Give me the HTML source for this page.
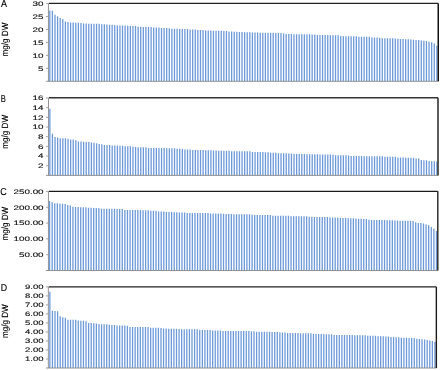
<!DOCTYPE html>
<html><head><meta charset="utf-8"><style>
html,body{margin:0;padding:0;background:#fff;}
body{width:440px;height:370px;overflow:hidden;font-family:"Liberation Sans",sans-serif;}
svg{display:block;will-change:transform;}
text{text-rendering:geometricPrecision;}
</style></head><body>
<svg xmlns="http://www.w3.org/2000/svg" width="440" height="370" viewBox="0 0 440 370">
<rect width="440" height="370" fill="#fff"/>
<path fill="#6d99d9" d="M49.15 81.30h1.30v-70.85h-1.30zM51.75 81.30h1.30v-70.60h-1.30zM54.35 81.30h1.30v-66.56h-1.30zM56.94 81.30h1.30v-65.00h-1.30zM59.54 81.30h1.30v-63.30h-1.30zM62.14 81.30h1.30v-62.40h-1.30zM64.74 81.30h1.30v-59.70h-1.30zM67.33 81.30h1.30v-59.30h-1.30zM69.93 81.30h1.30v-58.80h-1.30zM72.53 81.30h1.30v-58.80h-1.30zM75.13 81.30h1.30v-58.50h-1.30zM77.72 81.30h1.30v-58.50h-1.30zM80.32 81.30h1.30v-58.24h-1.30zM82.92 81.30h1.30v-57.90h-1.30zM85.52 81.30h1.30v-57.85h-1.30zM88.11 81.30h1.30v-57.50h-1.30zM90.71 81.30h1.30v-57.50h-1.30zM93.31 81.30h1.30v-57.50h-1.30zM95.91 81.30h1.30v-57.50h-1.30zM98.50 81.30h1.30v-57.50h-1.30zM101.10 81.30h1.30v-56.94h-1.30zM103.70 81.30h1.30v-56.94h-1.30zM106.30 81.30h1.30v-56.75h-1.30zM108.90 81.30h1.30v-56.60h-1.30zM111.49 81.30h1.30v-56.60h-1.30zM114.09 81.30h1.30v-56.30h-1.30zM116.69 81.30h1.30v-55.70h-1.30zM119.29 81.30h1.30v-55.70h-1.30zM121.88 81.30h1.30v-55.70h-1.30zM124.48 81.30h1.30v-55.70h-1.30zM127.08 81.30h1.30v-55.50h-1.30zM129.68 81.30h1.30v-55.20h-1.30zM132.27 81.30h1.30v-55.20h-1.30zM134.87 81.30h1.30v-55.20h-1.30zM137.47 81.30h1.30v-54.60h-1.30zM140.07 81.30h1.30v-54.60h-1.30zM142.66 81.30h1.30v-54.30h-1.30zM145.26 81.30h1.30v-54.30h-1.30zM147.86 81.30h1.30v-54.30h-1.30zM150.46 81.30h1.30v-54.30h-1.30zM153.05 81.30h1.30v-53.87h-1.30zM155.65 81.30h1.30v-53.87h-1.30zM158.25 81.30h1.30v-53.87h-1.30zM160.85 81.30h1.30v-53.32h-1.30zM163.44 81.30h1.30v-53.32h-1.30zM166.04 81.30h1.30v-53.32h-1.30zM168.64 81.30h1.30v-53.00h-1.30zM171.24 81.30h1.30v-52.50h-1.30zM173.84 81.30h1.30v-52.50h-1.30zM176.43 81.30h1.30v-52.50h-1.30zM179.03 81.30h1.30v-52.20h-1.30zM181.63 81.30h1.30v-52.20h-1.30zM184.23 81.30h1.30v-52.20h-1.30zM186.82 81.30h1.30v-52.20h-1.30zM189.42 81.30h1.30v-51.85h-1.30zM192.02 81.30h1.30v-51.85h-1.30zM194.62 81.30h1.30v-51.85h-1.30zM197.21 81.30h1.30v-51.40h-1.30zM199.81 81.30h1.30v-51.40h-1.30zM202.41 81.30h1.30v-51.40h-1.30zM205.01 81.30h1.30v-50.80h-1.30zM207.60 81.30h1.30v-50.75h-1.30zM210.20 81.30h1.30v-50.75h-1.30zM212.80 81.30h1.30v-50.50h-1.30zM215.40 81.30h1.30v-50.50h-1.30zM217.99 81.30h1.30v-50.50h-1.30zM220.59 81.30h1.30v-50.50h-1.30zM223.19 81.30h1.30v-50.20h-1.30zM225.79 81.30h1.30v-50.20h-1.30zM228.38 81.30h1.30v-49.85h-1.30zM230.98 81.30h1.30v-49.85h-1.30zM233.58 81.30h1.30v-49.60h-1.30zM236.18 81.30h1.30v-49.60h-1.30zM238.78 81.30h1.30v-49.40h-1.30zM241.37 81.30h1.30v-49.40h-1.30zM243.97 81.30h1.30v-49.05h-1.30zM246.57 81.30h1.30v-49.05h-1.30zM249.17 81.30h1.30v-49.05h-1.30zM251.76 81.30h1.30v-48.90h-1.30zM254.36 81.30h1.30v-48.90h-1.30zM256.96 81.30h1.30v-48.75h-1.30zM259.56 81.30h1.30v-48.50h-1.30zM262.15 81.30h1.30v-48.50h-1.30zM264.75 81.30h1.30v-48.50h-1.30zM267.35 81.30h1.30v-48.50h-1.30zM269.95 81.30h1.30v-48.50h-1.30zM272.54 81.30h1.30v-48.50h-1.30zM275.14 81.30h1.30v-48.20h-1.30zM277.74 81.30h1.30v-48.20h-1.30zM280.34 81.30h1.30v-48.20h-1.30zM282.93 81.30h1.30v-47.85h-1.30zM285.53 81.30h1.30v-47.40h-1.30zM288.13 81.30h1.30v-47.40h-1.30zM290.73 81.30h1.30v-47.40h-1.30zM293.32 81.30h1.30v-47.05h-1.30zM295.92 81.30h1.30v-47.05h-1.30zM298.52 81.30h1.30v-47.05h-1.30zM301.12 81.30h1.30v-47.00h-1.30zM303.72 81.30h1.30v-47.00h-1.30zM306.31 81.30h1.30v-47.00h-1.30zM308.91 81.30h1.30v-47.00h-1.30zM311.51 81.30h1.30v-46.75h-1.30zM314.11 81.30h1.30v-46.75h-1.30zM316.70 81.30h1.30v-46.20h-1.30zM319.30 81.30h1.30v-46.20h-1.30zM321.90 81.30h1.30v-46.20h-1.30zM324.50 81.30h1.30v-46.20h-1.30zM327.09 81.30h1.30v-46.20h-1.30zM329.69 81.30h1.30v-45.95h-1.30zM332.29 81.30h1.30v-45.95h-1.30zM334.89 81.30h1.30v-45.95h-1.30zM337.48 81.30h1.30v-45.95h-1.30zM340.08 81.30h1.30v-45.20h-1.30zM342.68 81.30h1.30v-45.00h-1.30zM345.28 81.30h1.30v-45.00h-1.30zM347.87 81.30h1.30v-45.00h-1.30zM350.47 81.30h1.30v-45.00h-1.30zM353.07 81.30h1.30v-45.00h-1.30zM355.67 81.30h1.30v-45.00h-1.30zM358.26 81.30h1.30v-44.50h-1.30zM360.86 81.30h1.30v-44.50h-1.30zM363.46 81.30h1.30v-44.50h-1.30zM366.06 81.30h1.30v-44.50h-1.30zM368.66 81.30h1.30v-44.50h-1.30zM371.25 81.30h1.30v-43.85h-1.30zM373.85 81.30h1.30v-43.85h-1.30zM376.45 81.30h1.30v-43.85h-1.30zM379.05 81.30h1.30v-43.60h-1.30zM381.64 81.30h1.30v-43.05h-1.30zM384.24 81.30h1.30v-43.05h-1.30zM386.84 81.30h1.30v-43.05h-1.30zM389.44 81.30h1.30v-43.05h-1.30zM392.03 81.30h1.30v-43.00h-1.30zM394.63 81.30h1.30v-42.90h-1.30zM397.23 81.30h1.30v-42.60h-1.30zM399.83 81.30h1.30v-42.30h-1.30zM402.42 81.30h1.30v-42.30h-1.30zM405.02 81.30h1.30v-42.10h-1.30zM407.62 81.30h1.30v-42.10h-1.30zM410.22 81.30h1.30v-41.90h-1.30zM412.81 81.30h1.30v-41.60h-1.30zM415.41 81.30h1.30v-41.30h-1.30zM418.01 81.30h1.30v-41.30h-1.30zM420.61 81.30h1.30v-40.90h-1.30zM423.20 81.30h1.30v-40.60h-1.30zM425.80 81.30h1.30v-40.30h-1.30zM428.40 81.30h1.30v-39.54h-1.30zM431.00 81.30h1.30v-39.00h-1.30zM433.60 81.30h1.30v-37.80h-1.30zM436.19 81.30h1.30v-35.45h-1.30z"/>
<path stroke="#888888" stroke-width="0.9" fill="none" d="M48.45 3.60V81.30M45.95 81.30H438.40"/>
<path stroke="#9a9a9a" stroke-width="0.9" fill="none" d="M45.95 68.35H48.45M45.95 55.40H48.45M45.95 42.45H48.45M45.95 29.50H48.45M45.95 16.55H48.45M45.95 3.60H48.45"/>
<path stroke="#222" stroke-width="1.2" fill="none" d="M48.85 3.42H438.25"/>
<path stroke="#111" stroke-width="1.5" fill="none" d="M438.25 3.42V81.30"/>
<text x="0" y="0" transform="translate(43.4 70.65) scale(1.541 1)" text-anchor="end" font-family="Liberation Sans" font-size="6.4" fill="#111111" stroke="#111111" stroke-width="0.12">5</text>
<text x="0" y="0" transform="translate(43.4 57.70) scale(1.541 1)" text-anchor="end" font-family="Liberation Sans" font-size="6.4" fill="#111111" stroke="#111111" stroke-width="0.12">10</text>
<text x="0" y="0" transform="translate(43.4 44.75) scale(1.541 1)" text-anchor="end" font-family="Liberation Sans" font-size="6.4" fill="#111111" stroke="#111111" stroke-width="0.12">15</text>
<text x="0" y="0" transform="translate(43.4 31.80) scale(1.541 1)" text-anchor="end" font-family="Liberation Sans" font-size="6.4" fill="#111111" stroke="#111111" stroke-width="0.12">20</text>
<text x="0" y="0" transform="translate(43.4 18.85) scale(1.541 1)" text-anchor="end" font-family="Liberation Sans" font-size="6.4" fill="#111111" stroke="#111111" stroke-width="0.12">25</text>
<text x="0" y="0" transform="translate(43.4 5.90) scale(1.541 1)" text-anchor="end" font-family="Liberation Sans" font-size="6.4" fill="#111111" stroke="#111111" stroke-width="0.12">30</text>
<text x="0" y="0" transform="translate(0.90 7.30) scale(0.88 1)" font-family="Liberation Sans" font-size="10.2" fill="#000" stroke="#000" stroke-width="0.15">A</text>
<text x="0" y="0" transform="translate(7.6 39.60) rotate(-90) scale(0.9 1)" text-anchor="middle" font-family="Liberation Sans" font-size="9.0" fill="#000" stroke="#000" stroke-width="0.12">mg/g DW</text>
<path fill="#6d99d9" d="M49.20 175.40h1.30v-66.60h-1.30zM51.80 175.40h1.30v-41.60h-1.30zM54.40 175.40h1.30v-38.50h-1.30zM56.99 175.40h1.30v-37.80h-1.30zM59.59 175.40h1.30v-37.10h-1.30zM62.19 175.40h1.30v-37.10h-1.30zM64.79 175.40h1.30v-37.10h-1.30zM67.38 175.40h1.30v-36.60h-1.30zM69.98 175.40h1.30v-35.90h-1.30zM72.58 175.40h1.30v-35.80h-1.30zM75.18 175.40h1.30v-35.20h-1.30zM77.77 175.40h1.30v-33.90h-1.30zM80.37 175.40h1.30v-33.90h-1.30zM82.97 175.40h1.30v-33.60h-1.30zM85.57 175.40h1.30v-33.50h-1.30zM88.16 175.40h1.30v-33.50h-1.30zM90.76 175.40h1.30v-32.80h-1.30zM93.36 175.40h1.30v-32.70h-1.30zM95.96 175.40h1.30v-32.20h-1.30zM98.55 175.40h1.30v-31.40h-1.30zM101.15 175.40h1.30v-31.10h-1.30zM103.75 175.40h1.30v-30.30h-1.30zM106.35 175.40h1.30v-30.30h-1.30zM108.95 175.40h1.30v-30.30h-1.30zM111.54 175.40h1.30v-29.95h-1.30zM114.14 175.40h1.30v-29.95h-1.30zM116.74 175.40h1.30v-29.95h-1.30zM119.34 175.40h1.30v-29.70h-1.30zM121.93 175.40h1.30v-29.70h-1.30zM124.53 175.40h1.30v-29.15h-1.30zM127.13 175.40h1.30v-29.15h-1.30zM129.73 175.40h1.30v-29.15h-1.30zM132.32 175.40h1.30v-28.60h-1.30zM134.92 175.40h1.30v-28.35h-1.30zM137.52 175.40h1.30v-28.14h-1.30zM140.12 175.40h1.30v-28.14h-1.30zM142.71 175.40h1.30v-28.14h-1.30zM145.31 175.40h1.30v-28.14h-1.30zM147.91 175.40h1.30v-27.40h-1.30zM150.51 175.40h1.30v-27.40h-1.30zM153.10 175.40h1.30v-27.40h-1.30zM155.70 175.40h1.30v-27.40h-1.30zM158.30 175.40h1.30v-27.40h-1.30zM160.90 175.40h1.30v-27.40h-1.30zM163.50 175.40h1.30v-27.40h-1.30zM166.09 175.40h1.30v-27.10h-1.30zM168.69 175.40h1.30v-27.10h-1.30zM171.29 175.40h1.30v-27.10h-1.30zM173.89 175.40h1.30v-27.10h-1.30zM176.48 175.40h1.30v-26.60h-1.30zM179.08 175.40h1.30v-26.60h-1.30zM181.68 175.40h1.30v-26.30h-1.30zM184.28 175.40h1.30v-25.97h-1.30zM186.87 175.40h1.30v-25.97h-1.30zM189.47 175.40h1.30v-25.97h-1.30zM192.07 175.40h1.30v-25.40h-1.30zM194.67 175.40h1.30v-25.40h-1.30zM197.26 175.40h1.30v-25.40h-1.30zM199.86 175.40h1.30v-25.40h-1.30zM202.46 175.40h1.30v-25.40h-1.30zM205.06 175.40h1.30v-25.10h-1.30zM207.65 175.40h1.30v-25.10h-1.30zM210.25 175.40h1.30v-25.10h-1.30zM212.85 175.40h1.30v-24.85h-1.30zM215.45 175.40h1.30v-24.85h-1.30zM218.04 175.40h1.30v-24.60h-1.30zM220.64 175.40h1.30v-24.60h-1.30zM223.24 175.40h1.30v-24.60h-1.30zM225.84 175.40h1.30v-24.60h-1.30zM228.44 175.40h1.30v-24.60h-1.30zM231.03 175.40h1.30v-24.25h-1.30zM233.63 175.40h1.30v-24.20h-1.30zM236.23 175.40h1.30v-24.20h-1.30zM238.83 175.40h1.30v-24.20h-1.30zM241.42 175.40h1.30v-24.20h-1.30zM244.02 175.40h1.30v-24.20h-1.30zM246.62 175.40h1.30v-24.20h-1.30zM249.22 175.40h1.30v-24.20h-1.30zM251.81 175.40h1.30v-23.40h-1.30zM254.41 175.40h1.30v-23.40h-1.30zM257.01 175.40h1.30v-23.40h-1.30zM259.61 175.40h1.30v-23.40h-1.30zM262.20 175.40h1.30v-23.40h-1.30zM264.80 175.40h1.30v-23.10h-1.30zM267.40 175.40h1.30v-23.10h-1.30zM270.00 175.40h1.30v-22.60h-1.30zM272.59 175.40h1.30v-22.60h-1.30zM275.19 175.40h1.30v-22.60h-1.30zM277.79 175.40h1.30v-22.25h-1.30zM280.39 175.40h1.30v-22.20h-1.30zM282.98 175.40h1.30v-22.20h-1.30zM285.58 175.40h1.30v-22.20h-1.30zM288.18 175.40h1.30v-21.80h-1.30zM290.78 175.40h1.30v-21.80h-1.30zM293.38 175.40h1.30v-21.40h-1.30zM295.97 175.40h1.30v-21.40h-1.30zM298.57 175.40h1.30v-21.40h-1.30zM301.17 175.40h1.30v-21.40h-1.30zM303.77 175.40h1.30v-21.40h-1.30zM306.36 175.40h1.30v-21.10h-1.30zM308.96 175.40h1.30v-21.10h-1.30zM311.56 175.40h1.30v-21.10h-1.30zM314.16 175.40h1.30v-21.10h-1.30zM316.75 175.40h1.30v-21.10h-1.30zM319.35 175.40h1.30v-20.87h-1.30zM321.95 175.40h1.30v-20.87h-1.30zM324.55 175.40h1.30v-20.87h-1.30zM327.14 175.40h1.30v-20.87h-1.30zM329.74 175.40h1.30v-20.87h-1.30zM332.34 175.40h1.30v-20.55h-1.30zM334.94 175.40h1.30v-20.20h-1.30zM337.53 175.40h1.30v-20.20h-1.30zM340.13 175.40h1.30v-20.20h-1.30zM342.73 175.40h1.30v-20.20h-1.30zM345.33 175.40h1.30v-20.20h-1.30zM347.92 175.40h1.30v-20.00h-1.30zM350.52 175.40h1.30v-19.40h-1.30zM353.12 175.40h1.30v-19.40h-1.30zM355.72 175.40h1.30v-19.40h-1.30zM358.31 175.40h1.30v-19.40h-1.30zM360.91 175.40h1.30v-19.40h-1.30zM363.51 175.40h1.30v-19.27h-1.30zM366.11 175.40h1.30v-19.27h-1.30zM368.71 175.40h1.30v-19.27h-1.30zM371.30 175.40h1.30v-19.27h-1.30zM373.90 175.40h1.30v-19.27h-1.30zM376.50 175.40h1.30v-19.27h-1.30zM379.10 175.40h1.30v-19.27h-1.30zM381.69 175.40h1.30v-19.27h-1.30zM384.29 175.40h1.30v-18.55h-1.30zM386.89 175.40h1.30v-18.55h-1.30zM389.49 175.40h1.30v-18.55h-1.30zM392.08 175.40h1.30v-18.55h-1.30zM394.68 175.40h1.30v-18.55h-1.30zM397.28 175.40h1.30v-18.00h-1.30zM399.88 175.40h1.30v-17.80h-1.30zM402.47 175.40h1.30v-17.80h-1.30zM405.07 175.40h1.30v-17.68h-1.30zM407.67 175.40h1.30v-17.68h-1.30zM410.27 175.40h1.30v-17.68h-1.30zM412.86 175.40h1.30v-17.68h-1.30zM415.46 175.40h1.30v-17.00h-1.30zM418.06 175.40h1.30v-17.00h-1.30zM420.66 175.40h1.30v-15.40h-1.30zM423.25 175.40h1.30v-15.20h-1.30zM425.85 175.40h1.30v-15.20h-1.30zM428.45 175.40h1.30v-14.40h-1.30zM431.05 175.40h1.30v-14.20h-1.30zM433.65 175.40h1.30v-14.10h-1.30zM436.24 175.40h1.30v-13.80h-1.30z"/>
<path stroke="#888888" stroke-width="0.9" fill="none" d="M48.50 98.00V175.40M46.00 175.40H437.80"/>
<path stroke="#9a9a9a" stroke-width="0.9" fill="none" d="M46.00 165.72H48.50M46.00 156.05H48.50M46.00 146.38H48.50M46.00 136.70H48.50M46.00 127.03H48.50M46.00 117.35H48.50M46.00 107.67H48.50M46.00 98.00H48.50"/>
<path stroke="#333" stroke-width="1.5" fill="none" d="M48.90 97.80H438.00"/>
<path stroke="#333" stroke-width="1.6" fill="none" d="M438.00 97.80V175.40"/>
<text x="0" y="0" transform="translate(43.4 168.03) scale(1.541 1)" text-anchor="end" font-family="Liberation Sans" font-size="6.4" fill="#111111" stroke="#111111" stroke-width="0.12">2</text>
<text x="0" y="0" transform="translate(43.4 158.35) scale(1.541 1)" text-anchor="end" font-family="Liberation Sans" font-size="6.4" fill="#111111" stroke="#111111" stroke-width="0.12">4</text>
<text x="0" y="0" transform="translate(43.4 148.68) scale(1.541 1)" text-anchor="end" font-family="Liberation Sans" font-size="6.4" fill="#111111" stroke="#111111" stroke-width="0.12">6</text>
<text x="0" y="0" transform="translate(43.4 139.00) scale(1.541 1)" text-anchor="end" font-family="Liberation Sans" font-size="6.4" fill="#111111" stroke="#111111" stroke-width="0.12">8</text>
<text x="0" y="0" transform="translate(43.4 129.33) scale(1.541 1)" text-anchor="end" font-family="Liberation Sans" font-size="6.4" fill="#111111" stroke="#111111" stroke-width="0.12">10</text>
<text x="0" y="0" transform="translate(43.4 119.65) scale(1.541 1)" text-anchor="end" font-family="Liberation Sans" font-size="6.4" fill="#111111" stroke="#111111" stroke-width="0.12">12</text>
<text x="0" y="0" transform="translate(43.4 109.97) scale(1.541 1)" text-anchor="end" font-family="Liberation Sans" font-size="6.4" fill="#111111" stroke="#111111" stroke-width="0.12">14</text>
<text x="0" y="0" transform="translate(43.4 100.30) scale(1.541 1)" text-anchor="end" font-family="Liberation Sans" font-size="6.4" fill="#111111" stroke="#111111" stroke-width="0.12">16</text>
<text x="0" y="0" transform="translate(0.80 101.60) scale(0.76 1)" font-family="Liberation Sans" font-size="10.0" fill="#000" stroke="#000" stroke-width="0.15">B</text>
<text x="0" y="0" transform="translate(7.6 131.80) rotate(-90) scale(0.9 1)" text-anchor="middle" font-family="Liberation Sans" font-size="9.0" fill="#000" stroke="#000" stroke-width="0.12">mg/g DW</text>
<path fill="#6d99d9" d="M48.90 270.50h1.30v-69.60h-1.30zM51.50 270.50h1.30v-68.30h-1.30zM54.09 270.50h1.30v-67.30h-1.30zM56.69 270.50h1.30v-67.30h-1.30zM59.29 270.50h1.30v-66.75h-1.30zM61.88 270.50h1.30v-66.75h-1.30zM64.48 270.50h1.30v-66.40h-1.30zM67.08 270.50h1.30v-65.50h-1.30zM69.68 270.50h1.30v-65.05h-1.30zM72.27 270.50h1.30v-63.80h-1.30zM74.87 270.50h1.30v-63.60h-1.30zM77.47 270.50h1.30v-63.60h-1.30zM80.06 270.50h1.30v-63.20h-1.30zM82.66 270.50h1.30v-63.20h-1.30zM85.26 270.50h1.30v-63.20h-1.30zM87.85 270.50h1.30v-62.70h-1.30zM90.45 270.50h1.30v-62.70h-1.30zM93.05 270.50h1.30v-62.50h-1.30zM95.64 270.50h1.30v-62.50h-1.30zM98.24 270.50h1.30v-62.50h-1.30zM100.84 270.50h1.30v-61.70h-1.30zM103.43 270.50h1.30v-61.70h-1.30zM106.03 270.50h1.30v-61.70h-1.30zM108.63 270.50h1.30v-61.70h-1.30zM111.22 270.50h1.30v-61.70h-1.30zM113.82 270.50h1.30v-61.70h-1.30zM116.42 270.50h1.30v-61.40h-1.30zM119.01 270.50h1.30v-61.40h-1.30zM121.61 270.50h1.30v-61.40h-1.30zM124.21 270.50h1.30v-60.60h-1.30zM126.80 270.50h1.30v-60.60h-1.30zM129.40 270.50h1.30v-60.60h-1.30zM132.00 270.50h1.30v-60.60h-1.30zM134.60 270.50h1.30v-60.60h-1.30zM137.19 270.50h1.30v-60.60h-1.30zM139.79 270.50h1.30v-60.40h-1.30zM142.39 270.50h1.30v-60.20h-1.30zM144.98 270.50h1.30v-60.20h-1.30zM147.58 270.50h1.30v-60.20h-1.30zM150.18 270.50h1.30v-59.70h-1.30zM152.77 270.50h1.30v-59.70h-1.30zM155.37 270.50h1.30v-59.70h-1.30zM157.97 270.50h1.30v-59.05h-1.30zM160.56 270.50h1.30v-59.05h-1.30zM163.16 270.50h1.30v-59.05h-1.30zM165.76 270.50h1.30v-58.60h-1.30zM168.35 270.50h1.30v-58.60h-1.30zM170.95 270.50h1.30v-58.60h-1.30zM173.55 270.50h1.30v-58.25h-1.30zM176.14 270.50h1.30v-58.25h-1.30zM178.74 270.50h1.30v-57.90h-1.30zM181.34 270.50h1.30v-57.90h-1.30zM183.93 270.50h1.30v-57.90h-1.30zM186.53 270.50h1.30v-57.60h-1.30zM189.13 270.50h1.30v-57.60h-1.30zM191.72 270.50h1.30v-57.60h-1.30zM194.32 270.50h1.30v-57.60h-1.30zM196.92 270.50h1.30v-57.60h-1.30zM199.52 270.50h1.30v-57.60h-1.30zM202.11 270.50h1.30v-57.60h-1.30zM204.71 270.50h1.30v-57.60h-1.30zM207.31 270.50h1.30v-57.60h-1.30zM209.90 270.50h1.30v-57.05h-1.30zM212.50 270.50h1.30v-57.05h-1.30zM215.10 270.50h1.30v-57.05h-1.30zM217.69 270.50h1.30v-57.05h-1.30zM220.29 270.50h1.30v-57.05h-1.30zM222.89 270.50h1.30v-56.80h-1.30zM225.48 270.50h1.30v-56.60h-1.30zM228.08 270.50h1.30v-56.60h-1.30zM230.68 270.50h1.30v-56.40h-1.30zM233.27 270.50h1.30v-56.20h-1.30zM235.87 270.50h1.30v-56.20h-1.30zM238.47 270.50h1.30v-56.20h-1.30zM241.06 270.50h1.30v-56.20h-1.30zM243.66 270.50h1.30v-56.20h-1.30zM246.26 270.50h1.30v-56.20h-1.30zM248.85 270.50h1.30v-56.20h-1.30zM251.45 270.50h1.30v-55.70h-1.30zM254.05 270.50h1.30v-55.40h-1.30zM256.64 270.50h1.30v-55.40h-1.30zM259.24 270.50h1.30v-55.40h-1.30zM261.84 270.50h1.30v-55.40h-1.30zM264.44 270.50h1.30v-55.40h-1.30zM267.03 270.50h1.30v-55.40h-1.30zM269.63 270.50h1.30v-55.40h-1.30zM272.23 270.50h1.30v-54.82h-1.30zM274.82 270.50h1.30v-54.82h-1.30zM277.42 270.50h1.30v-54.82h-1.30zM280.02 270.50h1.30v-54.82h-1.30zM282.61 270.50h1.30v-54.82h-1.30zM285.21 270.50h1.30v-54.82h-1.30zM287.81 270.50h1.30v-54.82h-1.30zM290.40 270.50h1.30v-54.20h-1.30zM293.00 270.50h1.30v-54.20h-1.30zM295.60 270.50h1.30v-54.20h-1.30zM298.19 270.50h1.30v-54.20h-1.30zM300.79 270.50h1.30v-54.20h-1.30zM303.39 270.50h1.30v-54.20h-1.30zM305.98 270.50h1.30v-54.20h-1.30zM308.58 270.50h1.30v-53.70h-1.30zM311.18 270.50h1.30v-53.70h-1.30zM313.77 270.50h1.30v-53.45h-1.30zM316.37 270.50h1.30v-53.45h-1.30zM318.97 270.50h1.30v-53.45h-1.30zM321.56 270.50h1.30v-53.45h-1.30zM324.16 270.50h1.30v-53.45h-1.30zM326.76 270.50h1.30v-53.45h-1.30zM329.36 270.50h1.30v-53.30h-1.30zM331.95 270.50h1.30v-52.90h-1.30zM334.55 270.50h1.30v-52.90h-1.30zM337.15 270.50h1.30v-52.90h-1.30zM339.74 270.50h1.30v-52.50h-1.30zM342.34 270.50h1.30v-52.50h-1.30zM344.94 270.50h1.30v-52.50h-1.30zM347.53 270.50h1.30v-52.20h-1.30zM350.13 270.50h1.30v-52.20h-1.30zM352.73 270.50h1.30v-52.20h-1.30zM355.32 270.50h1.30v-51.95h-1.30zM357.92 270.50h1.30v-51.70h-1.30zM360.52 270.50h1.30v-51.70h-1.30zM363.11 270.50h1.30v-51.40h-1.30zM365.71 270.50h1.30v-51.40h-1.30zM368.31 270.50h1.30v-50.85h-1.30zM370.90 270.50h1.30v-50.50h-1.30zM373.50 270.50h1.30v-50.50h-1.30zM376.10 270.50h1.30v-50.50h-1.30zM378.69 270.50h1.30v-50.50h-1.30zM381.29 270.50h1.30v-50.50h-1.30zM383.89 270.50h1.30v-50.50h-1.30zM386.48 270.50h1.30v-50.20h-1.30zM389.08 270.50h1.30v-50.20h-1.30zM391.68 270.50h1.30v-50.20h-1.30zM394.28 270.50h1.30v-49.90h-1.30zM396.87 270.50h1.30v-49.90h-1.30zM399.47 270.50h1.30v-49.75h-1.30zM402.07 270.50h1.30v-49.75h-1.30zM404.66 270.50h1.30v-49.75h-1.30zM407.26 270.50h1.30v-49.75h-1.30zM409.86 270.50h1.30v-49.75h-1.30zM412.45 270.50h1.30v-49.60h-1.30zM415.05 270.50h1.30v-48.20h-1.30zM417.65 270.50h1.30v-47.50h-1.30zM420.24 270.50h1.30v-47.50h-1.30zM422.84 270.50h1.30v-46.90h-1.30zM425.44 270.50h1.30v-45.90h-1.30zM428.03 270.50h1.30v-45.20h-1.30zM430.63 270.50h1.30v-43.60h-1.30zM433.23 270.50h1.30v-41.80h-1.30zM435.82 270.50h1.30v-39.50h-1.30z"/>
<path stroke="#888888" stroke-width="0.9" fill="none" d="M48.45 191.40V270.50M45.95 270.50H437.70"/>
<path stroke="#9a9a9a" stroke-width="0.9" fill="none" d="M45.95 254.68H48.45M45.95 238.86H48.45M45.95 223.04H48.45M45.95 207.22H48.45M45.95 191.40H48.45"/>
<path stroke="#1a1a1a" stroke-width="1.2" fill="none" d="M48.85 191.37H437.80"/>
<path stroke="#222" stroke-width="1.4" fill="none" d="M437.80 191.37V270.50"/>
<text x="0" y="0" transform="translate(43.6 256.98) scale(1.541 1)" text-anchor="end" font-family="Liberation Sans" font-size="6.4" fill="#111111" stroke="#111111" stroke-width="0.12">50.00</text>
<text x="0" y="0" transform="translate(43.6 241.16) scale(1.541 1)" text-anchor="end" font-family="Liberation Sans" font-size="6.4" fill="#111111" stroke="#111111" stroke-width="0.12">100.00</text>
<text x="0" y="0" transform="translate(43.6 225.34) scale(1.541 1)" text-anchor="end" font-family="Liberation Sans" font-size="6.4" fill="#111111" stroke="#111111" stroke-width="0.12">150.00</text>
<text x="0" y="0" transform="translate(43.6 209.52) scale(1.541 1)" text-anchor="end" font-family="Liberation Sans" font-size="6.4" fill="#111111" stroke="#111111" stroke-width="0.12">200.00</text>
<text x="0" y="0" transform="translate(43.6 193.70) scale(1.541 1)" text-anchor="end" font-family="Liberation Sans" font-size="6.4" fill="#111111" stroke="#111111" stroke-width="0.12">250.00</text>
<text x="0" y="0" transform="translate(0.20 194.90) scale(0.9 1)" font-family="Liberation Sans" font-size="10.0" fill="#000" stroke="#000" stroke-width="0.15">C</text>
<text x="0" y="0" transform="translate(7.6 223.65) rotate(-90) scale(0.9 1)" text-anchor="middle" font-family="Liberation Sans" font-size="9.0" fill="#000" stroke="#000" stroke-width="0.12">mg/g DW</text>
<path fill="#6d99d9" d="M49.20 368.00h1.29v-76.24h-1.29zM51.79 368.00h1.29v-57.30h-1.29zM54.37 368.00h1.29v-57.05h-1.29zM56.96 368.00h1.29v-56.65h-1.29zM59.54 368.00h1.29v-51.65h-1.29zM62.13 368.00h1.29v-50.84h-1.29zM64.71 368.00h1.29v-50.16h-1.29zM67.30 368.00h1.29v-48.14h-1.29zM69.88 368.00h1.29v-48.14h-1.29zM72.46 368.00h1.29v-48.14h-1.29zM75.05 368.00h1.29v-48.14h-1.29zM77.63 368.00h1.29v-47.60h-1.29zM80.22 368.00h1.29v-47.20h-1.29zM82.80 368.00h1.29v-47.20h-1.29zM85.39 368.00h1.29v-46.80h-1.29zM87.97 368.00h1.29v-44.90h-1.29zM90.56 368.00h1.29v-44.90h-1.29zM93.14 368.00h1.29v-44.85h-1.29zM95.72 368.00h1.29v-44.40h-1.29zM98.31 368.00h1.29v-44.00h-1.29zM100.89 368.00h1.29v-43.70h-1.29zM103.48 368.00h1.29v-43.70h-1.29zM106.06 368.00h1.29v-43.70h-1.29zM108.65 368.00h1.29v-43.20h-1.29zM111.23 368.00h1.29v-42.90h-1.29zM113.82 368.00h1.29v-42.90h-1.29zM116.40 368.00h1.29v-42.55h-1.29zM118.99 368.00h1.29v-42.55h-1.29zM121.57 368.00h1.29v-42.55h-1.29zM124.15 368.00h1.29v-42.55h-1.29zM126.74 368.00h1.29v-42.30h-1.29zM129.32 368.00h1.29v-41.00h-1.29zM131.91 368.00h1.29v-41.00h-1.29zM134.49 368.00h1.29v-41.00h-1.29zM137.08 368.00h1.29v-41.00h-1.29zM139.66 368.00h1.29v-41.00h-1.29zM142.25 368.00h1.29v-41.00h-1.29zM144.83 368.00h1.29v-41.00h-1.29zM147.41 368.00h1.29v-41.00h-1.29zM150.00 368.00h1.29v-40.20h-1.29zM152.58 368.00h1.29v-40.20h-1.29zM155.17 368.00h1.29v-40.20h-1.29zM157.75 368.00h1.29v-40.20h-1.29zM160.34 368.00h1.29v-39.90h-1.29zM162.92 368.00h1.29v-39.55h-1.29zM165.51 368.00h1.29v-39.55h-1.29zM168.09 368.00h1.29v-39.30h-1.29zM170.68 368.00h1.29v-39.30h-1.29zM173.26 368.00h1.29v-39.30h-1.29zM175.84 368.00h1.29v-39.30h-1.29zM178.43 368.00h1.29v-39.10h-1.29zM181.01 368.00h1.29v-38.75h-1.29zM183.60 368.00h1.29v-38.70h-1.29zM186.18 368.00h1.29v-38.70h-1.29zM188.77 368.00h1.29v-38.70h-1.29zM191.35 368.00h1.29v-38.70h-1.29zM193.94 368.00h1.29v-38.70h-1.29zM196.52 368.00h1.29v-38.70h-1.29zM199.10 368.00h1.29v-38.20h-1.29zM201.69 368.00h1.29v-37.90h-1.29zM204.27 368.00h1.29v-37.90h-1.29zM206.86 368.00h1.29v-37.90h-1.29zM209.44 368.00h1.29v-37.90h-1.29zM212.03 368.00h1.29v-37.55h-1.29zM214.61 368.00h1.29v-37.55h-1.29zM217.20 368.00h1.29v-37.55h-1.29zM219.78 368.00h1.29v-37.55h-1.29zM222.37 368.00h1.29v-37.10h-1.29zM224.95 368.00h1.29v-37.10h-1.29zM227.53 368.00h1.29v-37.10h-1.29zM230.12 368.00h1.29v-37.10h-1.29zM232.70 368.00h1.29v-37.00h-1.29zM235.29 368.00h1.29v-37.00h-1.29zM237.87 368.00h1.29v-37.00h-1.29zM240.46 368.00h1.29v-37.00h-1.29zM243.04 368.00h1.29v-37.00h-1.29zM245.63 368.00h1.29v-37.00h-1.29zM248.21 368.00h1.29v-37.00h-1.29zM250.79 368.00h1.29v-36.70h-1.29zM253.38 368.00h1.29v-36.70h-1.29zM255.96 368.00h1.29v-36.20h-1.29zM258.55 368.00h1.29v-36.20h-1.29zM261.13 368.00h1.29v-36.20h-1.29zM263.72 368.00h1.29v-36.20h-1.29zM266.30 368.00h1.29v-36.20h-1.29zM268.89 368.00h1.29v-36.20h-1.29zM271.47 368.00h1.29v-35.90h-1.29zM274.06 368.00h1.29v-35.90h-1.29zM276.64 368.00h1.29v-35.90h-1.29zM279.22 368.00h1.29v-35.45h-1.29zM281.81 368.00h1.29v-35.45h-1.29zM284.39 368.00h1.29v-35.45h-1.29zM286.98 368.00h1.29v-35.00h-1.29zM289.56 368.00h1.29v-35.00h-1.29zM292.15 368.00h1.29v-35.00h-1.29zM294.73 368.00h1.29v-35.00h-1.29zM297.32 368.00h1.29v-35.00h-1.29zM299.90 368.00h1.29v-34.70h-1.29zM302.48 368.00h1.29v-34.70h-1.29zM305.07 368.00h1.29v-34.70h-1.29zM307.65 368.00h1.29v-34.70h-1.29zM310.24 368.00h1.29v-34.70h-1.29zM312.82 368.00h1.29v-34.20h-1.29zM315.41 368.00h1.29v-34.20h-1.29zM317.99 368.00h1.29v-33.90h-1.29zM320.58 368.00h1.29v-33.90h-1.29zM323.16 368.00h1.29v-33.80h-1.29zM325.75 368.00h1.29v-33.80h-1.29zM328.33 368.00h1.29v-33.80h-1.29zM330.91 368.00h1.29v-33.80h-1.29zM333.50 368.00h1.29v-33.00h-1.29zM336.08 368.00h1.29v-33.00h-1.29zM338.67 368.00h1.29v-33.00h-1.29zM341.25 368.00h1.29v-33.00h-1.29zM343.84 368.00h1.29v-33.00h-1.29zM346.42 368.00h1.29v-33.00h-1.29zM349.01 368.00h1.29v-33.00h-1.29zM351.59 368.00h1.29v-33.00h-1.29zM354.17 368.00h1.29v-32.70h-1.29zM356.76 368.00h1.29v-32.70h-1.29zM359.34 368.00h1.29v-32.70h-1.29zM361.93 368.00h1.29v-32.70h-1.29zM364.51 368.00h1.29v-32.70h-1.29zM367.10 368.00h1.29v-32.20h-1.29zM369.68 368.00h1.29v-32.20h-1.29zM372.27 368.00h1.29v-32.15h-1.29zM374.85 368.00h1.29v-32.15h-1.29zM377.44 368.00h1.29v-31.80h-1.29zM380.02 368.00h1.29v-31.80h-1.29zM382.60 368.00h1.29v-31.80h-1.29zM385.19 368.00h1.29v-31.40h-1.29zM387.77 368.00h1.29v-31.40h-1.29zM390.36 368.00h1.29v-31.00h-1.29zM392.94 368.00h1.29v-31.00h-1.29zM395.53 368.00h1.29v-30.80h-1.29zM398.11 368.00h1.29v-30.80h-1.29zM400.70 368.00h1.29v-30.30h-1.29zM403.28 368.00h1.29v-30.30h-1.29zM405.86 368.00h1.29v-30.30h-1.29zM408.45 368.00h1.29v-30.10h-1.29zM411.03 368.00h1.29v-30.00h-1.29zM413.62 368.00h1.29v-29.70h-1.29zM416.20 368.00h1.29v-29.30h-1.29zM418.79 368.00h1.29v-29.00h-1.29zM421.37 368.00h1.29v-28.80h-1.29zM423.96 368.00h1.29v-28.60h-1.29zM426.54 368.00h1.29v-28.00h-1.29zM429.13 368.00h1.29v-27.60h-1.29zM431.71 368.00h1.29v-26.96h-1.29zM434.29 368.00h1.29v-26.24h-1.29z"/>
<path stroke="#888888" stroke-width="0.9" fill="none" d="M48.35 286.90V368.00M45.85 368.00H436.50"/>
<path stroke="#9a9a9a" stroke-width="0.9" fill="none" d="M45.85 358.99H48.35M45.85 349.98H48.35M45.85 340.97H48.35M45.85 331.96H48.35M45.85 322.94H48.35M45.85 313.93H48.35M45.85 304.92H48.35M45.85 295.91H48.35M45.85 286.90H48.35"/>
<path stroke="#222" stroke-width="1.4" fill="none" d="M48.75 286.86H436.35"/>
<path stroke="#1a1a1a" stroke-width="1.4" fill="none" d="M436.35 286.86V368.00"/>
<text x="0" y="0" transform="translate(43.6 361.29) scale(1.487 1)" text-anchor="end" font-family="Liberation Sans" font-size="6.4" fill="#111111" stroke="#111111" stroke-width="0.12">1.00</text>
<text x="0" y="0" transform="translate(43.6 352.28) scale(1.487 1)" text-anchor="end" font-family="Liberation Sans" font-size="6.4" fill="#111111" stroke="#111111" stroke-width="0.12">2.00</text>
<text x="0" y="0" transform="translate(43.6 343.27) scale(1.487 1)" text-anchor="end" font-family="Liberation Sans" font-size="6.4" fill="#111111" stroke="#111111" stroke-width="0.12">3.00</text>
<text x="0" y="0" transform="translate(43.6 334.26) scale(1.487 1)" text-anchor="end" font-family="Liberation Sans" font-size="6.4" fill="#111111" stroke="#111111" stroke-width="0.12">4.00</text>
<text x="0" y="0" transform="translate(43.6 325.24) scale(1.487 1)" text-anchor="end" font-family="Liberation Sans" font-size="6.4" fill="#111111" stroke="#111111" stroke-width="0.12">5.00</text>
<text x="0" y="0" transform="translate(43.6 316.23) scale(1.487 1)" text-anchor="end" font-family="Liberation Sans" font-size="6.4" fill="#111111" stroke="#111111" stroke-width="0.12">6.00</text>
<text x="0" y="0" transform="translate(43.6 307.22) scale(1.487 1)" text-anchor="end" font-family="Liberation Sans" font-size="6.4" fill="#111111" stroke="#111111" stroke-width="0.12">7.00</text>
<text x="0" y="0" transform="translate(43.6 298.21) scale(1.487 1)" text-anchor="end" font-family="Liberation Sans" font-size="6.4" fill="#111111" stroke="#111111" stroke-width="0.12">8.00</text>
<text x="0" y="0" transform="translate(43.6 289.20) scale(1.487 1)" text-anchor="end" font-family="Liberation Sans" font-size="6.4" fill="#111111" stroke="#111111" stroke-width="0.12">9.00</text>
<text x="0" y="0" transform="translate(0.70 291.00) scale(0.88 1)" font-family="Liberation Sans" font-size="10.0" fill="#000" stroke="#000" stroke-width="0.15">D</text>
<text x="0" y="0" transform="translate(7.6 321.15) rotate(-90) scale(0.9 1)" text-anchor="middle" font-family="Liberation Sans" font-size="9.0" fill="#000" stroke="#000" stroke-width="0.12">mg/g DW</text>
</svg>
</body></html>
